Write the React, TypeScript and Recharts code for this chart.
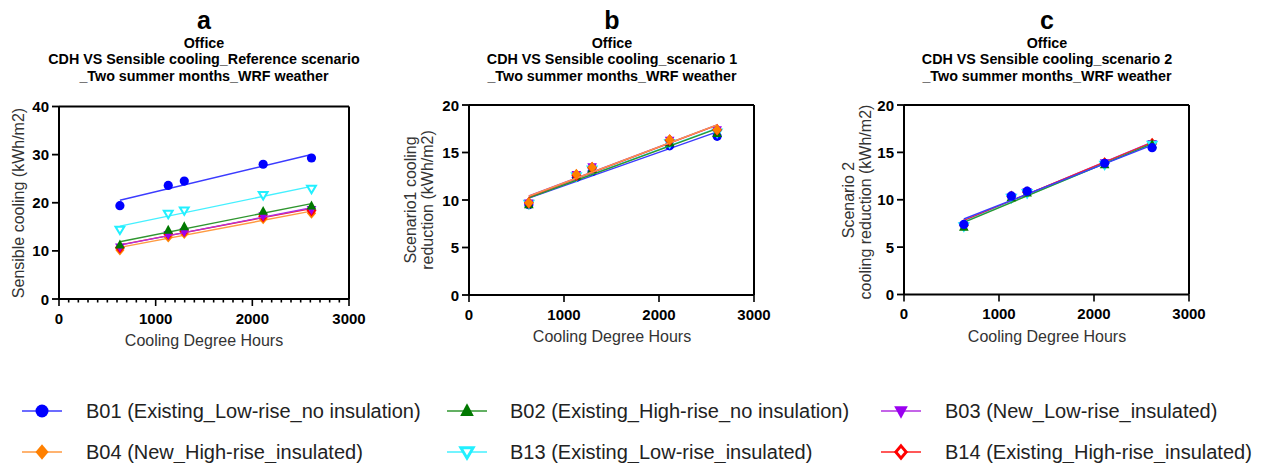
import React from 'react';
import { ScatterChart, Scatter, XAxis, YAxis } from 'recharts';

// ---------- data ----------
const cdh = [630, 1130, 1296, 2112, 2612];

// Panel a: sensible cooling, reference scenario (kWh/m2)
const refB01 = [19.4, 23.6, 24.5, 28.0, 29.3];
const refB02 = [11.2, 14.3, 15.0, 18.2, 19.3];
const refB03 = [10.8, 13.4, 14.0, 17.3, 18.6];
const refB04 = [10.2, 12.9, 13.6, 16.7, 17.8];
const refB13 = [14.4, 17.7, 18.4, 21.6, 22.9];
const refB14 = [10.7, 13.5, 14.1, 17.2, 18.4];

// Panel b: scenario 1 cooling reduction (kWh/m2)
const s1B01 = [9.5, 12.4, 13.0, 15.7, 16.7];
const s1B02 = [9.5, 12.5, 13.2, 16.0, 17.0];
const s1B03 = [9.7, 12.7, 13.5, 16.3, 17.4];
const s1B04 = [9.7, 12.7, 13.45, 16.35, 17.4];
const s1B13 = [9.6, 12.5, 13.2, 16.0, 17.1];
const s1B14 = [9.7, 12.6, 13.4, 16.3, 17.4];

// Panel c: scenario 2 cooling reduction (kWh/m2)
const s2B01 = [7.4, 10.4, 10.9, 13.85, 15.5];
const s2B02 = [7.1, 10.2, 10.7, 13.7, 15.8];
const s2B03 = [7.3, 10.3, 10.85, 13.9, 15.95];
const s2B04 = [7.3, 10.3, 10.8, 13.9, 15.9];
const s2B13 = [7.2, 10.2, 10.7, 13.7, 15.8];
const s2B14 = [7.3, 10.35, 10.8, 13.85, 15.9];

const xTicksMajor = [0, 1000, 2000, 3000];
const xTicksMinor = Array.from({ length: 31 }, (_, i) => i * 100);
const yTicksA = [0, 10, 20, 30, 40];
const yTicksBC = [0, 5, 10, 15, 20];

const seriesLabels: Record<string, string> = {
  B01: 'B01 (Existing_Low-rise_no insulation)',
  B02: 'B02 (Existing_High-rise_no insulation)',
  B03: 'B03 (New_Low-rise_insulated)',
  B04: 'B04 (New_High-rise_insulated)',
  B13: 'B13 (Existing_Low-rise_insulated)',
  B14: 'B14 (Existing_High-rise_insulated)',
};

// ---------- styles ----------
const FONT = '"Liberation Sans", Arial, Helvetica, sans-serif';
const style: Record<string, { color: string; line: string; kind: string }> = {
  B01: { color: '#0000ff', line: '#3b3bff', kind: 'circle' },
  B02: { color: '#007800', line: '#2f962f', kind: 'up' },
  B03: { color: '#9a00f0', line: '#b030e0', kind: 'down' },
  B04: { color: '#ff8000', line: '#ff9a40', kind: 'diamond' },
  B13: { color: '#22f0ff', line: '#44f0ff', kind: 'downHollow' },
  B14: { color: '#ff0000', line: '#ff2020', kind: 'diamondHollow' },
};

const toPts = (ys: number[]) => cdh.map((x, i) => ({ x, y: ys[i] }));

function Marker({ kind, cx, cy, color, s }: any) {
  switch (kind) {
    case 'circle':
      return <circle cx={cx} cy={cy} r={s} fill={color} />;
    case 'up':
      return (
        <polygon
          points={`${cx},${cy - s * 1.2} ${cx + s * 1.05},${cy + s * 0.75} ${cx - s * 1.05},${cy + s * 0.75}`}
          fill={color}
        />
      );
    case 'down':
      return (
        <polygon
          points={`${cx},${cy + s * 1.2} ${cx + s * 1.05},${cy - s * 0.75} ${cx - s * 1.05},${cy - s * 0.75}`}
          fill={color}
        />
      );
    case 'downHollow':
      return (
        <polygon
          points={`${cx},${cy + s * 0.95} ${cx + s * 0.95},${cy - s * 0.65} ${cx - s * 0.95},${cy - s * 0.65}`}
          fill="#fff"
          stroke={color}
          strokeWidth={s * 0.45}
          strokeLinejoin="miter"
        />
      );
    case 'diamond':
      return (
        <polygon
          points={`${cx},${cy - s * 1.2} ${cx + s},${cy} ${cx},${cy + s * 1.2} ${cx - s},${cy}`}
          fill={color}
        />
      );
    case 'diamondHollow':
      return (
        <polygon
          points={`${cx},${cy - s * 0.95} ${cx + s * 0.8},${cy} ${cx},${cy + s * 0.95} ${cx - s * 0.8},${cy}`}
          fill="#fff"
          stroke={color}
          strokeWidth={s * 0.45}
        />
      );
    default:
      return null;
  }
}

// ---------- tick renderers ----------
const tickFont = { fontFamily: FONT, fontSize: 15, fontWeight: 700, fill: '#000' };

const makeBottomTick = (withMinor: boolean) => (props: any) => {
  const { x, y, payload } = props;
  const v = payload.value;
  const major = v % 1000 === 0;
  if (!major && !withMinor) return <g />;
  return (
    <g>
      <line x1={x} y1={y} x2={x} y2={y + (major ? 7 : 3.5)} stroke="#000" strokeWidth={1.6} />
      {major && (
        <text x={x} y={y + 19} textAnchor="middle" dominantBaseline="central" {...tickFont}>
          {v}
        </text>
      )}
    </g>
  );
};

const makeTopTick = (withMinor: boolean) => (props: any) => {
  const { x, y, payload } = props;
  const v = payload.value;
  const major = v % 1000 === 0;
  if (v === 0 || v === 3000) return <g />;
  if (!major && !withMinor) return <g />;
  return <line x1={x} y1={y} x2={x} y2={y + (major ? 7 : 3.5)} stroke="#000" strokeWidth={1.6} />;
};

const LeftTick = (props: any) => {
  const { x, y, payload } = props;
  return (
    <g>
      <line x1={x - 7} y1={y} x2={x} y2={y} stroke="#000" strokeWidth={1.8} />
      <text x={x - 10} y={y} textAnchor="end" dominantBaseline="central" {...tickFont}>
        {payload.value}
      </text>
    </g>
  );
};

const RightTick = (props: any) => {
  const { x, y } = props;
  return <line x1={x} y1={y} x2={x - 7} y2={y} stroke="#000" strokeWidth={1.8} />;
};

// ---------- panel ----------
type PanelProps = {
  left: number;
  width: number;
  height: number;
  plot: { x0: number; x1: number; y0: number; y1: number };
  yDomain: [number, number];
  yTicks: number[];
  minor: boolean;
  data: Record<string, number[]>;
  order: string[];
};

function Panel({ left, width, height, plot, yDomain, yTicks, minor, data, order }: PanelProps) {
  const axisLine = { stroke: '#000', strokeWidth: 2 };
  const A = 1; // thickness reserved by each axis
  const margin = {
    left: plot.x0 - left - A,
    right: left + width - plot.x1 - A,
    top: plot.y0 - A,
    bottom: height - plot.y1 - A,
  };
  return (
    <div style={{ position: 'absolute', left, top: 0 }}>
      <ScatterChart width={width} height={height} margin={margin}>
        <XAxis
          xAxisId="b"
          type="number"
          dataKey="x"
          orientation="bottom"
          domain={[0, 3000]}
          ticks={minor ? xTicksMinor : xTicksMajor}
          interval={0}
          height={A}
          tickSize={0}
          tickMargin={0}
          tickLine={false}
          axisLine={axisLine}
          tick={makeBottomTick(minor)}
        />
        <XAxis
          xAxisId="t"
          type="number"
          dataKey="x"
          orientation="top"
          domain={[0, 3000]}
          ticks={minor ? xTicksMinor : xTicksMajor}
          interval={0}
          height={A}
          tickSize={0}
          tickMargin={0}
          tickLine={false}
          axisLine={axisLine}
          tick={makeTopTick(minor)}
        />
        <YAxis
          yAxisId="l"
          type="number"
          dataKey="y"
          orientation="left"
          domain={yDomain}
          ticks={yTicks}
          interval={0}
          width={A}
          tickSize={0}
          tickMargin={0}
          tickLine={false}
          axisLine={axisLine}
          tick={LeftTick}
        />
        <YAxis
          yAxisId="r"
          type="number"
          dataKey="y"
          orientation="right"
          domain={yDomain}
          ticks={yTicks.slice(1, -1)}
          interval={0}
          width={A}
          tickSize={0}
          tickMargin={0}
          tickLine={false}
          axisLine={axisLine}
          tick={RightTick}
        />
        {order.map((id) => (
          <Scatter
            key={id}
            name={id}
            xAxisId="b"
            yAxisId="l"
            data={toPts(data[id])}
            fill={style[id].color}
            line={{ stroke: style[id].line, strokeWidth: 1.4 }}
            lineType="fitting"
            isAnimationActive={false}
            shape={(p: any) => <Marker kind={style[id].kind} cx={p.cx} cy={p.cy} color={style[id].color} s={4.6} />}
          />
        ))}
      </ScatterChart>
    </div>
  );
}

// ---------- text helpers ----------
function T({ x, y, children, size = 13, bold = false, color = '#000', rotate = false }: any) {
  return (
    <div
      style={{
        position: 'absolute',
        left: x,
        top: y,
        transform: `translate(-50%, -50%)${rotate ? ' rotate(-90deg)' : ''}`,
        whiteSpace: 'nowrap',
        fontFamily: FONT,
        fontSize: size,
        fontWeight: bold ? 700 : 400,
        color,
        lineHeight: 1,
      }}
    >
      {children}
    </div>
  );
}

function Title({ cx, letter, l2, l3 }: any) {
  return (
    <>
      <T x={cx} y={20} size={25} bold>
        {letter}
      </T>
      <T x={cx} y={42.5} size={14.3} bold>
        Office
      </T>
      <T x={cx} y={59} size={14.3} bold>
        {l2}
      </T>
      <T x={cx} y={76} size={14.3} bold>
        {l3}
      </T>
    </>
  );
}

const legendRows = [411, 452];
const legendMarkerX = [42, 467, 901];
const legendTextX = [86, 510, 945];
const legendLayout = [
  ['B01', 'B02', 'B03'],
  ['B04', 'B13', 'B14'],
];

function Legend() {
  return (
    <>
      {legendLayout.map((row, r) =>
        row.map((id, c) => (
          <React.Fragment key={id}>
            <svg
              style={{ position: 'absolute', left: legendMarkerX[c] - 22, top: legendRows[r] - 12 }}
              width={44}
              height={24}
            >
              <line x1={2} y1={12} x2={42} y2={12} stroke={style[id].line} strokeWidth={1.6} />
              <Marker kind={style[id].kind} cx={22} cy={12} color={style[id].color} s={6.5} />
            </svg>
            <div
              style={{
                position: 'absolute',
                left: legendTextX[c],
                top: legendRows[r],
                transform: 'translateY(-50%)',
                whiteSpace: 'nowrap',
                fontFamily: FONT,
                fontSize: 20,
                color: '#222',
                lineHeight: 1,
              }}
            >
              {seriesLabels[id]}
            </div>
          </React.Fragment>
        ))
      )}
    </>
  );
}

export default function App() {
  const dataA = { B01: refB01, B02: refB02, B03: refB03, B04: refB04, B13: refB13, B14: refB14 };
  const dataB = { B01: s1B01, B02: s1B02, B03: s1B03, B04: s1B04, B13: s1B13, B14: s1B14 };
  const dataC = { B01: s2B01, B02: s2B02, B03: s2B03, B04: s2B04, B13: s2B13, B14: s2B14 };
  return (
    <div
      style={{
        position: 'absolute',
        left: 0,
        top: 0,
        width: 1262,
        height: 463,
        background: '#fff',
        overflow: 'hidden',
      }}
    >
      <Panel
        left={0}
        width={420}
        height={340}
        plot={{ x0: 59, x1: 349, y0: 106.5, y1: 299 }}
        yDomain={[0, 40]}
        yTicks={yTicksA}
        minor
        data={dataA}
        order={['B04', 'B14', 'B03', 'B13', 'B02', 'B01']}
      />
      <Panel
        left={420}
        width={420}
        height={340}
        plot={{ x0: 469, x1: 754, y0: 105, y1: 295 }}
        yDomain={[0, 20]}
        yTicks={yTicksBC}
        minor={false}
        data={dataB}
        order={['B01', 'B13', 'B02', 'B14', 'B03', 'B04']}
      />
      <Panel
        left={840}
        width={420}
        height={340}
        plot={{ x0: 904, x1: 1189, y0: 105, y1: 294.5 }}
        yDomain={[0, 20]}
        yTicks={yTicksBC}
        minor={false}
        data={dataC}
        order={['B04', 'B03', 'B14', 'B13', 'B02', 'B01']}
      />

      <Title cx={204} letter="a" l2="CDH VS Sensible cooling_Reference scenario" l3="_Two summer months_WRF weather" />
      <Title cx={612} letter="b" l2="CDH VS Sensible cooling_scenario 1" l3="_Two summer months_WRF weather" />
      <Title cx={1047} letter="c" l2="CDH VS Sensible cooling_scenario 2" l3="_Two summer months_WRF weather" />

      <T x={204} y={341} size={16} color="#333">Cooling Degree Hours</T>
      <T x={612} y={337} size={16} color="#333">Cooling Degree Hours</T>
      <T x={1047} y={337} size={16} color="#333">Cooling Degree Hours</T>

      <T x={19} y={203} size={16} color="#333" rotate>Sensible cooling (kWh/m2)</T>
      <T x={411} y={200} size={16} color="#333" rotate>Scenario1 cooling</T>
      <T x={428} y={200} size={16} color="#333" rotate>reduction (kWh/m2)</T>
      <T x={849} y={200} size={16} color="#333" rotate>Scenario 2</T>
      <T x={866} y={202} size={16} color="#333" rotate>cooling reduction (kWh/m2)</T>

      <Legend />
    </div>
  );
}
